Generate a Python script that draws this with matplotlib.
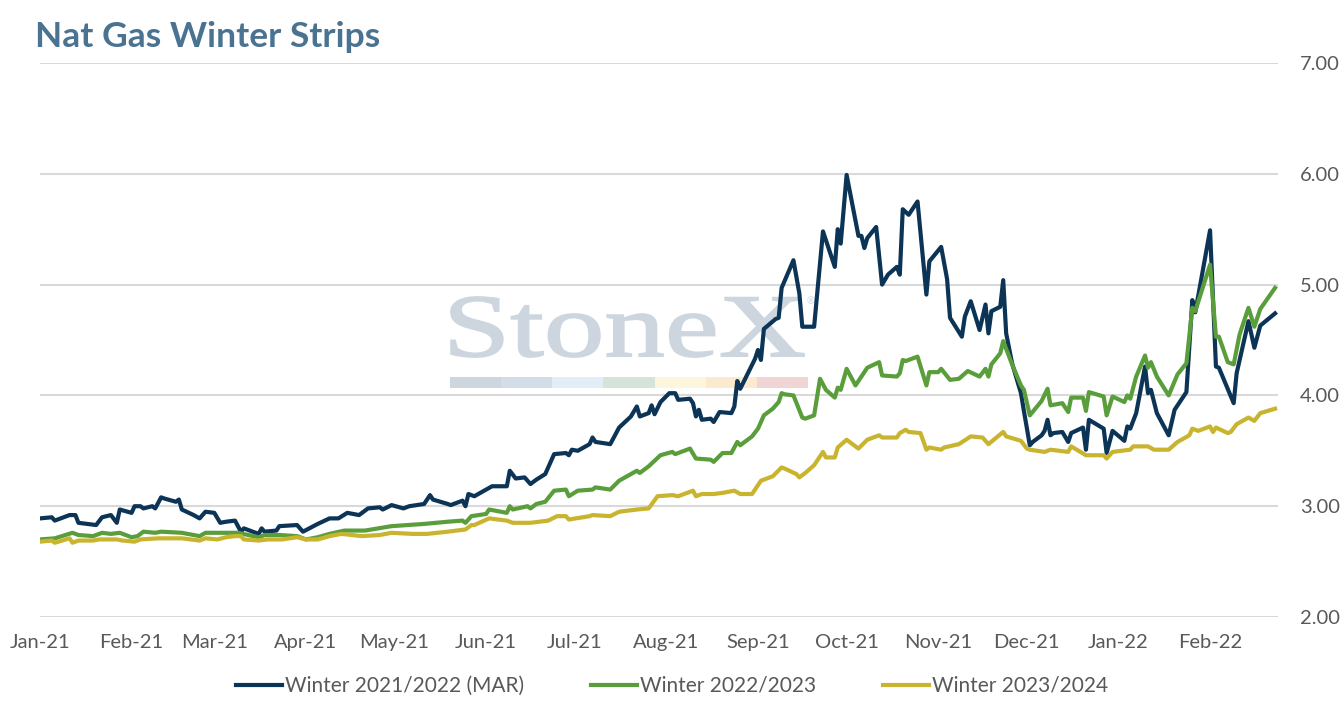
import matplotlib
matplotlib.use("Agg")
import matplotlib.pyplot as plt
import matplotlib.dates as mdates
import pandas as pd
from matplotlib.ticker import FormatStrFormatter
from matplotlib.textpath import TextPath
from matplotlib.patches import PathPatch, Rectangle
from matplotlib.font_manager import FontProperties
from matplotlib.transforms import Affine2D

plt.rcParams["font.family"] = ["Lato", "DejaVu Sans"]

# Winter 2021/2022 (MAR) strip
w21_dates = [
    "2021-01-01", "2021-01-05", "2021-01-06", "2021-01-11", "2021-01-13", "2021-01-14", "2021-01-20", "2021-01-22",
    "2021-01-25", "2021-01-27", "2021-01-28", "2021-02-01", "2021-02-02", "2021-02-04", "2021-02-05", "2021-02-08",
    "2021-02-09", "2021-02-11", "2021-02-12", "2021-02-16", "2021-02-17", "2021-02-18", "2021-02-22", "2021-02-24",
    "2021-02-26", "2021-03-01", "2021-03-03", "2021-03-05", "2021-03-08", "2021-03-10", "2021-03-11", "2021-03-16",
    "2021-03-17", "2021-03-18", "2021-03-22", "2021-03-23", "2021-03-29", "2021-03-31", "2021-04-05", "2021-04-09",
    "2021-04-12", "2021-04-15", "2021-04-19", "2021-04-22", "2021-04-26", "2021-04-27", "2021-04-30", "2021-05-04",
    "2021-05-06", "2021-05-11", "2021-05-13", "2021-05-14", "2021-05-19", "2021-05-20", "2021-05-24", "2021-05-25",
    "2021-05-26", "2021-05-28", "2021-06-03", "2021-06-08", "2021-06-09", "2021-06-11", "2021-06-14", "2021-06-16",
    "2021-06-18", "2021-06-21", "2021-06-24", "2021-06-28", "2021-06-29", "2021-06-30", "2021-07-02", "2021-07-06",
    "2021-07-07", "2021-07-08", "2021-07-13", "2021-07-16", "2021-07-20", "2021-07-22", "2021-07-23", "2021-07-26",
    "2021-07-27", "2021-07-28", "2021-07-30", "2021-08-02", "2021-08-04", "2021-08-05", "2021-08-09", "2021-08-10",
    "2021-08-11", "2021-08-12", "2021-08-13", "2021-08-16", "2021-08-17", "2021-08-19", "2021-08-23", "2021-08-24",
    "2021-08-25", "2021-08-26", "2021-08-31", "2021-09-01", "2021-09-02", "2021-09-03", "2021-09-07", "2021-09-08",
    "2021-09-09", "2021-09-13", "2021-09-15", "2021-09-16", "2021-09-20", "2021-09-23", "2021-09-27", "2021-09-28",
    "2021-09-29", "2021-10-01", "2021-10-05", "2021-10-06", "2021-10-07", "2021-10-08", "2021-10-11", "2021-10-13",
    "2021-10-15", "2021-10-18", "2021-10-19", "2021-10-20", "2021-10-22", "2021-10-25", "2021-10-28", "2021-10-29",
    "2021-11-02", "2021-11-04", "2021-11-05", "2021-11-09", "2021-11-10", "2021-11-12", "2021-11-15", "2021-11-17",
    "2021-11-18", "2021-11-19", "2021-11-22", "2021-11-23", "2021-11-24", "2021-11-26", "2021-11-29", "2021-11-30",
    "2021-12-02", "2021-12-03", "2021-12-06", "2021-12-07", "2021-12-08", "2021-12-09", "2021-12-10", "2021-12-13",
    "2021-12-15", "2021-12-16", "2021-12-20", "2021-12-21", "2021-12-22", "2021-12-27", "2021-12-28", "2021-12-30",
    "2022-01-03", "2022-01-04", "2022-01-05", "2022-01-07", "2022-01-10", "2022-01-11", "2022-01-12", "2022-01-14",
    "2022-01-18", "2022-01-20", "2022-01-24", "2022-01-26", "2022-01-27", "2022-02-01", "2022-02-03", "2022-02-04",
    "2022-02-09", "2022-02-10", "2022-02-14", "2022-02-16", "2022-02-18", "2022-02-23",
]
w21_values = [
    2.89, 2.90, 2.87, 2.92, 2.92, 2.85, 2.83, 2.90,
    2.92, 2.85, 2.97, 2.94, 3.00, 3.00, 2.98, 3.00,
    2.98, 3.08, 3.07, 3.04, 3.06, 2.97, 2.92, 2.89,
    2.95, 2.94, 2.85, 2.86, 2.87, 2.77, 2.80, 2.75,
    2.80, 2.77, 2.78, 2.82, 2.83, 2.77, 2.84, 2.89,
    2.89, 2.94, 2.92, 2.98, 2.99, 2.97, 3.01, 2.98,
    3.00, 3.02, 3.10, 3.06, 3.02, 3.01, 3.05, 3.00,
    3.11, 3.09, 3.18, 3.18, 3.32, 3.25, 3.26, 3.20,
    3.24, 3.29, 3.47, 3.48, 3.46, 3.51, 3.50, 3.56,
    3.62, 3.58, 3.56, 3.71, 3.81, 3.90, 3.81, 3.84,
    3.91, 3.83, 3.94, 4.02, 4.02, 3.96, 3.97, 3.93,
    3.81, 3.87, 3.78, 3.79, 3.76, 3.85, 3.84, 3.90,
    4.13, 4.06, 4.33, 4.41, 4.32, 4.60, 4.69, 4.70,
    4.97, 5.22, 4.92, 4.62, 4.62, 5.48, 5.16, 5.50,
    5.37, 5.99, 5.44, 5.44, 5.33, 5.42, 5.52, 5.00,
    5.09, 5.16, 5.09, 5.68, 5.63, 5.75, 4.91, 5.21,
    5.34, 5.05, 4.70, 4.53, 4.71, 4.85, 4.59, 4.82,
    4.56, 4.76, 4.80, 5.04, 4.56, 4.29, 4.02, 3.86,
    3.55, 3.58, 3.64, 3.68, 3.78, 3.64, 3.66, 3.67,
    3.58, 3.66, 3.71, 3.51, 3.78, 3.70, 3.48, 3.68,
    3.59, 3.72, 3.70, 3.84, 4.26, 4.02, 4.05, 3.84,
    3.64, 3.87, 4.03, 4.86, 4.75, 5.49, 4.26, 4.25,
    3.93, 4.20, 4.67, 4.43, 4.63, 4.74,
]

# Winter 2022/2023 strip
w22_dates = [
    "2021-01-01", "2021-01-06", "2021-01-12", "2021-01-14", "2021-01-19", "2021-01-22", "2021-01-25", "2021-01-28",
    "2021-02-01", "2021-02-03", "2021-02-05", "2021-02-09", "2021-02-11", "2021-02-18", "2021-02-24", "2021-02-26",
    "2021-03-02", "2021-03-09", "2021-03-16", "2021-03-18", "2021-03-23", "2021-03-29", "2021-04-01", "2021-04-05",
    "2021-04-09", "2021-04-14", "2021-04-21", "2021-04-30", "2021-05-11", "2021-05-19", "2021-05-24", "2021-05-25",
    "2021-05-27", "2021-06-01", "2021-06-02", "2021-06-08", "2021-06-09", "2021-06-10", "2021-06-15", "2021-06-16",
    "2021-06-18", "2021-06-21", "2021-06-24", "2021-06-28", "2021-06-29", "2021-07-02", "2021-07-07", "2021-07-08",
    "2021-07-13", "2021-07-16", "2021-07-22", "2021-07-23", "2021-07-26", "2021-07-30", "2021-08-03", "2021-08-04",
    "2021-08-09", "2021-08-11", "2021-08-16", "2021-08-17", "2021-08-20", "2021-08-23", "2021-08-25", "2021-08-26",
    "2021-08-30", "2021-09-01", "2021-09-03", "2021-09-06", "2021-09-08", "2021-09-09", "2021-09-10", "2021-09-13",
    "2021-09-16", "2021-09-17", "2021-09-20", "2021-09-22", "2021-09-24", "2021-09-27", "2021-09-28", "2021-09-29",
    "2021-10-01", "2021-10-04", "2021-10-08", "2021-10-12", "2021-10-13", "2021-10-18", "2021-10-19", "2021-10-20",
    "2021-10-21", "2021-10-25", "2021-10-28", "2021-10-29", "2021-11-01", "2021-11-02", "2021-11-05", "2021-11-08",
    "2021-11-11", "2021-11-15", "2021-11-17", "2021-11-18", "2021-11-19", "2021-11-22", "2021-11-23", "2021-11-26",
    "2021-11-29", "2021-11-30", "2021-12-02", "2021-12-06", "2021-12-08", "2021-12-09", "2021-12-13", "2021-12-15",
    "2021-12-16", "2021-12-20", "2021-12-21", "2021-12-22", "2021-12-27", "2021-12-28", "2021-12-30", "2022-01-03",
    "2022-01-04", "2022-01-05", "2022-01-07", "2022-01-10", "2022-01-11", "2022-01-12", "2022-01-14", "2022-01-18",
    "2022-01-21", "2022-01-24", "2022-01-26", "2022-01-27", "2022-02-01", "2022-02-03", "2022-02-04", "2022-02-07",
    "2022-02-09", "2022-02-11", "2022-02-14", "2022-02-16", "2022-02-18", "2022-02-23",
]
w22_values = [
    2.70, 2.71, 2.76, 2.74, 2.73, 2.76, 2.75, 2.76,
    2.72, 2.73, 2.77, 2.76, 2.77, 2.76, 2.73, 2.76,
    2.76, 2.76, 2.72, 2.74, 2.74, 2.73, 2.70, 2.72,
    2.75, 2.78, 2.78, 2.82, 2.84, 2.86, 2.87, 2.85,
    2.91, 2.93, 2.97, 2.94, 3.00, 2.97, 3.00, 2.98,
    3.02, 3.04, 3.14, 3.15, 3.09, 3.14, 3.15, 3.17,
    3.15, 3.23, 3.32, 3.30, 3.36, 3.46, 3.49, 3.47,
    3.52, 3.43, 3.42, 3.40, 3.48, 3.48, 3.58, 3.55,
    3.63, 3.70, 3.82, 3.88, 3.94, 4.02, 4.01, 4.00,
    3.80, 3.79, 3.82, 4.15, 4.05, 3.98, 4.07, 4.05,
    4.24, 4.09, 4.25, 4.30, 4.18, 4.17, 4.20, 4.32,
    4.31, 4.35, 4.09, 4.21, 4.21, 4.24, 4.14, 4.15,
    4.22, 4.17, 4.24, 4.17, 4.28, 4.38, 4.49, 4.28,
    4.09, 4.05, 3.82, 3.95, 4.06, 3.91, 3.93, 3.85,
    3.98, 3.98, 3.86, 4.03, 3.99, 3.82, 3.99, 3.94,
    4.00, 3.97, 4.17, 4.36, 4.25, 4.30, 4.17, 4.00,
    4.19, 4.29, 4.79, 4.76, 5.18, 4.53, 4.53, 4.30,
    4.28, 4.55, 4.79, 4.62, 4.78, 4.97,
]

# Winter 2023/2024 strip
w23_dates = [
    "2021-01-01", "2021-01-05", "2021-01-06", "2021-01-11", "2021-01-12", "2021-01-14", "2021-01-19", "2021-01-21",
    "2021-01-27", "2021-01-29", "2021-02-02", "2021-02-04", "2021-02-10", "2021-02-18", "2021-02-24", "2021-02-26",
    "2021-03-02", "2021-03-05", "2021-03-08", "2021-03-10", "2021-03-11", "2021-03-16", "2021-03-19", "2021-03-24",
    "2021-03-29", "2021-04-01", "2021-04-05", "2021-04-09", "2021-04-13", "2021-04-20", "2021-04-26", "2021-04-30",
    "2021-05-07", "2021-05-12", "2021-05-19", "2021-05-25", "2021-05-27", "2021-05-28", "2021-06-02", "2021-06-08",
    "2021-06-10", "2021-06-16", "2021-06-22", "2021-06-25", "2021-06-28", "2021-06-29", "2021-07-06", "2021-07-07",
    "2021-07-13", "2021-07-16", "2021-07-22", "2021-07-26", "2021-07-29", "2021-08-03", "2021-08-05", "2021-08-10",
    "2021-08-11", "2021-08-13", "2021-08-17", "2021-08-20", "2021-08-24", "2021-08-26", "2021-08-30", "2021-09-02",
    "2021-09-06", "2021-09-09", "2021-09-10", "2021-09-14", "2021-09-15", "2021-09-17", "2021-09-20", "2021-09-23",
    "2021-09-24", "2021-09-27", "2021-09-28", "2021-10-01", "2021-10-05", "2021-10-08", "2021-10-12", "2021-10-13",
    "2021-10-18", "2021-10-19", "2021-10-21", "2021-10-22", "2021-10-26", "2021-10-28", "2021-10-29", "2021-11-02",
    "2021-11-03", "2021-11-08", "2021-11-12", "2021-11-16", "2021-11-18", "2021-11-23", "2021-11-24", "2021-11-29",
    "2021-12-01", "2021-12-02", "2021-12-07", "2021-12-09", "2021-12-15", "2021-12-16", "2021-12-21", "2021-12-27",
    "2021-12-28", "2021-12-30", "2022-01-05", "2022-01-06", "2022-01-11", "2022-01-13", "2022-01-18", "2022-01-21",
    "2022-01-25", "2022-01-26", "2022-01-28", "2022-02-01", "2022-02-02", "2022-02-03", "2022-02-07", "2022-02-08",
    "2022-02-10", "2022-02-14", "2022-02-16", "2022-02-18", "2022-02-23",
]
w23_values = [
    2.68, 2.69, 2.67, 2.71, 2.67, 2.69, 2.69, 2.70,
    2.70, 2.69, 2.68, 2.70, 2.71, 2.71, 2.69, 2.71,
    2.70, 2.72, 2.73, 2.73, 2.70, 2.69, 2.70, 2.70,
    2.72, 2.70, 2.70, 2.73, 2.75, 2.73, 2.74, 2.76,
    2.75, 2.75, 2.77, 2.79, 2.83, 2.83, 2.89, 2.87,
    2.85, 2.85, 2.87, 2.91, 2.91, 2.88, 2.91, 2.92,
    2.91, 2.95, 2.97, 2.98, 3.09, 3.10, 3.09, 3.14,
    3.09, 3.11, 3.11, 3.12, 3.14, 3.11, 3.11, 3.23,
    3.27, 3.35, 3.34, 3.29, 3.26, 3.30, 3.37, 3.49,
    3.44, 3.44, 3.53, 3.60, 3.52, 3.60, 3.64, 3.62,
    3.62, 3.66, 3.69, 3.67, 3.66, 3.51, 3.53, 3.51,
    3.53, 3.56, 3.63, 3.62, 3.56, 3.67, 3.63, 3.59,
    3.52, 3.51, 3.49, 3.51, 3.49, 3.54, 3.46, 3.46,
    3.43, 3.49, 3.51, 3.54, 3.54, 3.51, 3.51, 3.58,
    3.64, 3.70, 3.68, 3.72, 3.67, 3.71, 3.66, 3.67,
    3.74, 3.80, 3.77, 3.84, 3.88,
]

series_labels = ["Winter 2021/2022 (MAR)", "Winter 2022/2023", "Winter 2023/2024"]
series_colors = ["#0C3457", "#5A9E3B", "#C8B42E"]
y_ticks = [2, 3, 4, 5, 6, 7]

W, H = 1344, 706
fig = plt.figure(figsize=(W / 100, H / 100), dpi=100)
ax = fig.add_axes([40 / W, 1 - 617 / H, 1238 / W, 554 / H])

# StoneX watermark behind the lines
ax_w, ax_h = 1238, 554
fp = FontProperties(family="Liberation Serif")
tp = TextPath((0, 0), "StoneX", size=1, prop=fp)
bb = tp.get_extents()
x0, x1 = (451 - 40) / ax_w, (804 - 40) / ax_w
y0, y1 = (617 - 357) / ax_h, (617 - 297) / ax_h
tr = Affine2D().translate(-bb.x0, -bb.y0).scale((x1 - x0) / bb.width, (y1 - y0) / bb.height).translate(x0, y0)
ax.add_patch(PathPatch(tp, transform=tr + ax.transAxes, facecolor="#CDD6DF",
                       edgecolor="#CDD6DF", lw=1.3, zorder=0.5))
ax.text((811 - 40) / ax_w, (617 - 302) / ax_h, "\u00ae", transform=ax.transAxes,
        fontsize=7, color="#CDD6DF", ha="center", va="center", zorder=0.5)
strip_colors = ["#CDD5DD", "#D3DDE8", "#E2EDF6", "#D5E3DA", "#FBF6DC", "#FCEAD0", "#F1D4D6"]
bx0, bx1 = (450 - 40) / ax_w, (808 - 40) / ax_w
by0, by1 = (617 - 388) / ax_h, (617 - 377) / ax_h
seg = (bx1 - bx0) / len(strip_colors)
for i, c in enumerate(strip_colors):
    ax.add_patch(Rectangle((bx0 + i * seg, by0), seg, by1 - by0, transform=ax.transAxes,
                           facecolor=c, edgecolor="none", zorder=0.5))

all_dates = [w21_dates, w22_dates, w23_dates]
all_values = [w21_values, w22_values, w23_values]
for d, v, lab, col in zip(all_dates, all_values, series_labels, series_colors):
    ax.plot(pd.to_datetime(d), v, color=col, lw=3.0, label=lab, zorder=3,
            solid_joinstyle="round")

for s in ax.spines.values():
    s.set_visible(False)

ax.set_ylim(2, 7)
ax.set_yticks(y_ticks)
ax.yaxis.set_major_formatter(FormatStrFormatter("%.2f"))
ax.yaxis.tick_right()
ax.grid(axis="y", color="#D9D9D9", lw=1.5)
ax.set_axisbelow(True)

ax.set_xlim(pd.Timestamp("2021-01-01"), pd.Timestamp("2022-02-24"))
ax.xaxis.set_major_locator(mdates.MonthLocator())
ax.xaxis.set_major_formatter(mdates.DateFormatter("%b-%y"))

ax.tick_params(axis="y", length=0, pad=16, labelsize=14.5, labelcolor="#595959")
ax.tick_params(axis="x", length=0, pad=12, labelsize=14.5, labelcolor="#595959")

fig.text(35 / W, 1 - 46.7 / H, "Nat Gas Winter Strips", fontsize=25.5, fontweight="bold",
         color="#4A7291", va="baseline", ha="left")

handles, labels = ax.get_legend_handles_labels()
fig.legend(handles, labels, loc="center", bbox_to_anchor=(0.5, 1 - 686 / H), ncol=3,
           frameon=False, fontsize=15, labelcolor="#595959", handlelength=2.2,
           handletextpad=0.15, columnspacing=3.2)

fig.savefig("out.png", dpi=100)
